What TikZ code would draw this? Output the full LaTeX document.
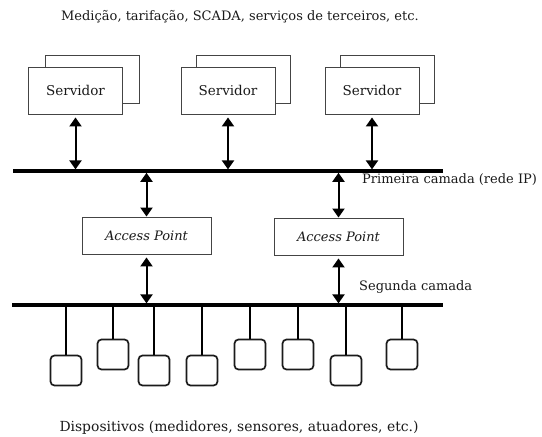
\documentclass[tikz,border=0pt]{standalone}
\usepackage{fontspec}
\setmainfont{DejaVu Serif}
\usetikzlibrary{arrows.meta}
\definecolor{ink}{HTML}{1A1A1A}
\definecolor{boxline}{HTML}{444444}
\tikzset{
  lbl/.style={font=\fontsize{13}{15}\selectfont, text=ink, inner sep=0pt},
  srvfront/.style={draw=boxline, line width=0.9pt, fill=white, minimum width=94pt, minimum height=47pt, inner sep=0pt, font=\fontsize{13.5}{15}\selectfont, text=ink},
  srvback/.style={draw=boxline, line width=0.9pt, fill=white, minimum width=94pt, minimum height=48pt, inner sep=0pt},
  apbox/.style={draw=boxline, line width=0.9pt, fill=white, minimum width=129pt, minimum height=37pt, inner sep=0pt, font=\fontsize{13}{15}\selectfont\itshape, text=ink},
  bus/.style={line width=3.6pt, black},
  biarrow/.style={line width=2pt, black, {Triangle[width=12pt,length=9pt]}-{Triangle[width=12pt,length=9pt]}},
  devbox/.style={draw=ink, line width=1.7pt, rounded corners=4pt, minimum width=31pt, minimum height=30pt, inner sep=0pt},
  dropline/.style={line width=2pt, black}
}
\begin{document}
\begin{tikzpicture}[x=1pt, y=-1pt]
\useasboundingbox (0,0) rectangle (542,437);

% top label
\node[lbl] (top) at (240,17) {Medição, tarifação, SCADA, serviços de terceiros, etc.};

% servers
\node[srvback] (s1b) at (92,79) {};
\node[srvfront] (s1) at (75.5,90.5) {Servidor};
\node[srvback] (s2b) at (243.5,79) {};
\node[srvfront] (s2) at (228,90.5) {Servidor};
\node[srvback] (s3b) at (387.5,79) {};
\node[srvfront] (s3) at (372,90.5) {Servidor};

% first bus
\coordinate (b1l) at (13,171);
\coordinate (b1r) at (443,171);
\draw[bus] (b1l) -- (b1r);
\node[lbl, anchor=west] (l1) at (362,180) {Primeira camada (rede IP)};

\draw[biarrow, shorten <=3pt, shorten >=1.6pt] (s1.south) -- (s1.south |- b1l);
\draw[biarrow, shorten <=3pt, shorten >=1.6pt] (s2.south) -- (s2.south |- b1l);
\draw[biarrow, shorten <=3pt, shorten >=1.6pt] (s3.south) -- (s3.south |- b1l);

% access points
\node[apbox] (ap1) at (146.5,235.5) {Access Point};
\node[apbox] (ap2) at (338.5,236.5) {Access Point};

\draw[biarrow, shorten <=1.8pt] (ap1.north |- b1l) -- (ap1.north);
\draw[biarrow, shorten <=1.8pt] (ap2.north |- b1l) -- (ap2.north);

% second bus
\coordinate (b2l) at (12,305);
\coordinate (b2r) at (443,305);
\draw[bus] (b2l) -- (b2r);
\node[lbl, anchor=west] (l2) at (359,287) {Segunda camada};

\draw[biarrow, shorten <=3pt, shorten >=1.6pt] (ap1.south) -- (ap1.south |- b2l);
\draw[biarrow, shorten <=3pt, shorten >=1.6pt] (ap2.south) -- (ap2.south |- b2l);

% devices
\node[devbox] (d1) at (66,370.5) {};
\node[devbox] (d2) at (113,354.5) {};
\node[devbox] (d3) at (154,370.5) {};
\node[devbox] (d4) at (202,370.5) {};
\node[devbox] (d5) at (250,354.5) {};
\node[devbox] (d6) at (298,354.5) {};
\node[devbox] (d7) at (346,370.5) {};
\node[devbox] (d8) at (402,354.5) {};
\foreach \d in {d1,d2,d3,d4,d5,d6,d7,d8}
  \draw[dropline] (\d.north |- b2l) -- (\d.north);

% bottom label
\node[lbl, font=\fontsize{13.9}{16}\selectfont] (bot) at (239,428) {Dispositivos (medidores, sensores, atuadores, etc.)};
\end{tikzpicture}
\end{document}
